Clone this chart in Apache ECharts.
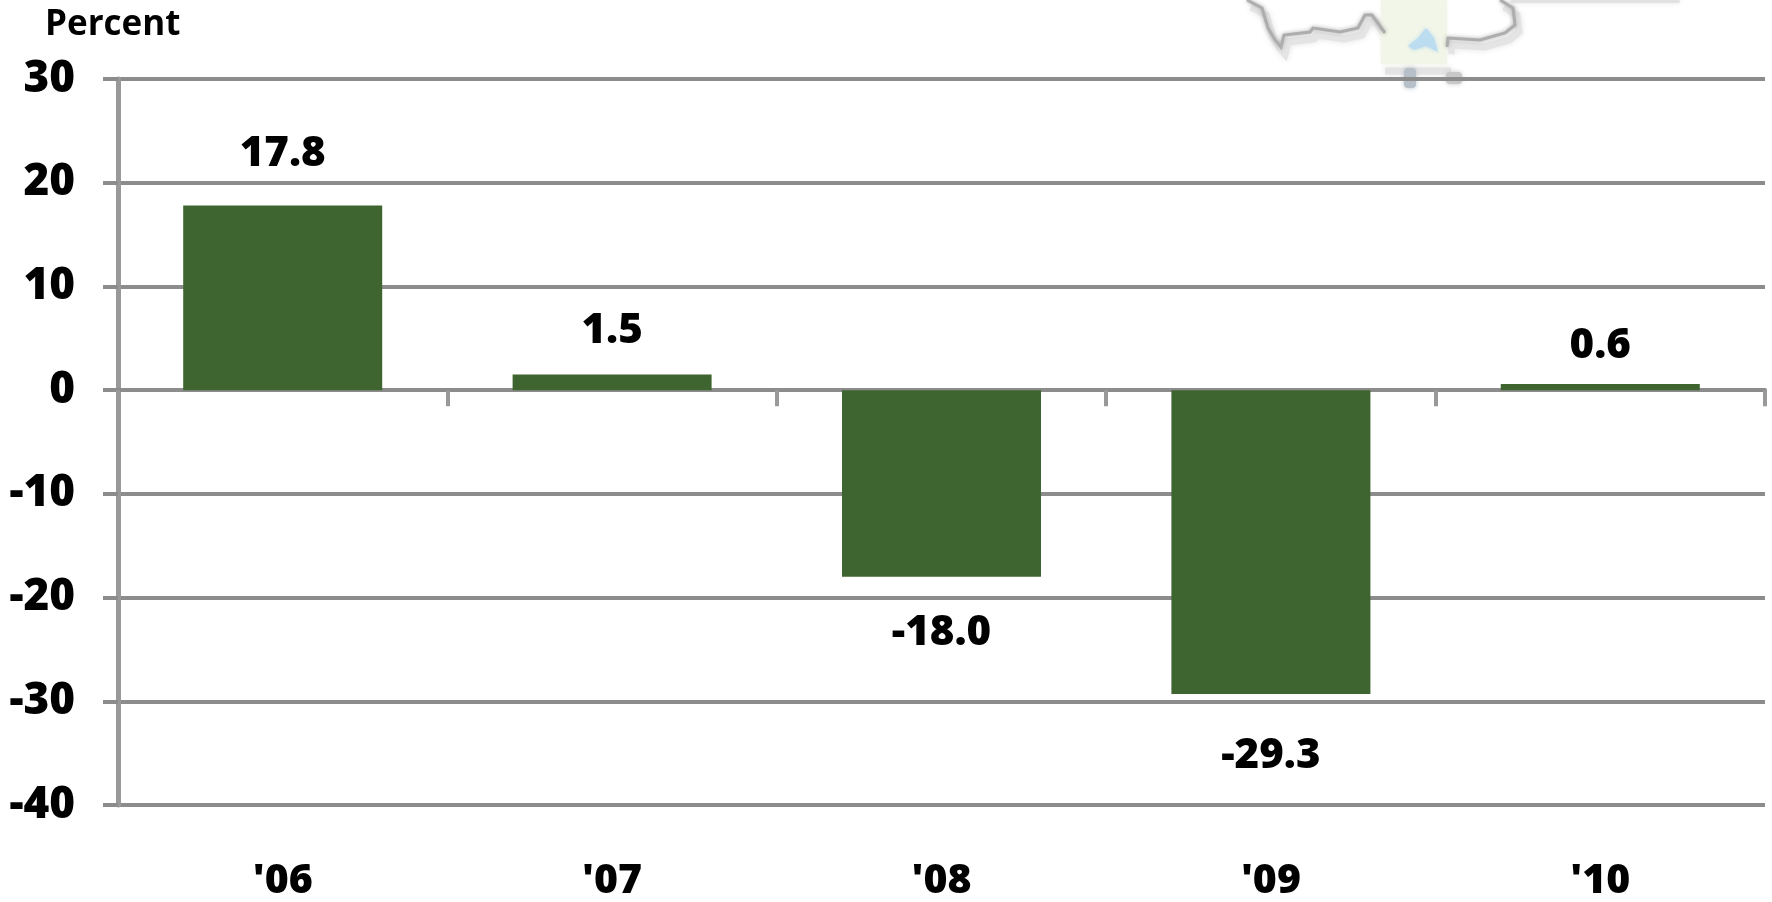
<!DOCTYPE html>
<html>
<head>
<meta charset="utf-8">
<title>Percent change by year</title>
<style>
  html, body { margin: 0; padding: 0; background: #fff; }
  #chart { width: 1772px; height: 902px; }
</style>
<script src="https://cdn.jsdelivr.net/npm/echarts@6/dist/echarts.min.js"></script>
</head>
<body>
<div id="chart"></div>
<script>
const categories = ["'06", "'07", "'08", "'09", "'10"]
const values = [17.8, 1.5, -18.0, -29.3, 0.6]
const yMin = -40
const yMax = 30
const yStep = 10

// the value labels do not sit at one distance from their bars in the original
const labelGaps = [31, 23, 35, 41, 17]

const axisGrey = '#8c8c8c'
const barGreen = '#3e652f'
const fontFamily = '"Open Sans", sans-serif'
const heavy = 800

// faint piece of a map showing through at the top of the picture, not data
const mapLeft = [[1247, 0], [1262, 8], [1268, 28], [1275, 40], [1281, 47], [1284, 35], [1310, 32], [1313, 28], [1340, 32], [1358, 28], [1365, 15], [1372, 15], [1385, 33]]
const mapRight = [[1447, 47], [1448, 38], [1480, 40], [1505, 33], [1515, 25], [1513, 8], [1500, 0]]
const mapFill = [[1381, 0], [1447, 0], [1447, 64], [1381, 64]]
const mapLake = [[1408, 46], [1418, 38], [1426, 28], [1434, 38], [1438, 52], [1426, 46], [1414, 50]]

function mapLine (points) {
  return {
    type: 'polyline',
    silent: true,
    z: -1,
    shape: { points },
    style: { fill: null, stroke: '#adadad', lineWidth: 3, shadowColor: '#adadad', shadowBlur: 4 }
  }
}

function mapShadow (points) {
  return {
    type: 'polyline',
    silent: true,
    z: -2,
    x: 4,
    y: 7,
    shape: { points },
    style: { fill: null, stroke: '#e4e4e4', lineWidth: 7, shadowColor: '#e4e4e4', shadowBlur: 6 }
  }
}

function mapArea (points, fill) {
  return { type: 'polygon', silent: true, z: -1, shape: { points }, style: { fill, shadowColor: fill, shadowBlur: 4 } }
}

function mapSmudge (x, y, width, height, fill) {
  return { type: 'rect', silent: true, z: -1, shape: { x, y, width, height, r: 4 }, style: { fill, shadowColor: fill, shadowBlur: 5 } }
}

const chart = echarts.init(document.getElementById('chart'), null, { renderer: 'canvas' })

chart.setOption({
  animation: false,
  backgroundColor: '#fff',
  title: {
    text: 'Percent',
    left: 40,
    top: 3,
    textStyle: { fontFamily, fontSize: 35, fontWeight: 'bold', color: '#000' }
  },
  grid: { left: 118, right: 7, top: 79, bottom: 97, outerBoundsMode: 'none' },
  xAxis: [
    {
      type: 'category',
      data: categories,
      axisLine: { onZero: true, lineStyle: { color: axisGrey, width: 4 } },
      axisTick: { show: true, alignWithLabel: false, length: 16, lineStyle: { color: '#999', width: 4 } },
      axisLabel: { show: false }
    },
    {
      type: 'category',
      position: 'bottom',
      data: categories,
      axisLine: { show: false, onZero: false },
      axisTick: { show: false },
      axisLabel: { margin: 56, fontFamily, fontSize: 41, fontWeight: heavy, color: '#000' }
    }
  ],
  yAxis: {
    type: 'value',
    min: yMin,
    max: yMax,
    interval: yStep,
    axisLine: { show: true, lineStyle: { color: '#999', width: 5 } },
    axisTick: { show: true, length: 15, lineStyle: { color: axisGrey, width: 4 } },
    axisLabel: { margin: 43, fontFamily, fontSize: 44, fontWeight: heavy, color: '#000' },
    splitLine: { show: true, lineStyle: { color: axisGrey, width: 4 } }
  },
  series: [
    {
      type: 'bar',
      xAxisIndex: 0,
      barWidth: 199,
      itemStyle: { color: barGreen },
      data: values.map((value, i) => ({
        value,
        label: {
          show: true,
          position: value < 0 ? 'bottom' : 'top',
          distance: labelGaps[i],
          formatter: value.toFixed(1),
          fontFamily,
          fontSize: 42,
          fontWeight: heavy,
          color: '#000'
        }
      }))
    }
  ],
  graphic: [
    mapShadow(mapLeft),
    mapShadow(mapRight),
    mapShadow([[1381, 64], [1447, 64]]),
    mapArea(mapFill, '#f2f6e8'),
    mapArea(mapLake, '#bcdcf0'),
    mapLine(mapLeft),
    mapLine(mapRight),
    mapSmudge(1510, 0, 170, 3, '#e2e2e2'),
    mapSmudge(1404, 68, 12, 20, '#b7c0c8'),
    mapSmudge(1446, 72, 16, 12, '#c8c8c8')
  ]
})
</script>
</body>
</html>
